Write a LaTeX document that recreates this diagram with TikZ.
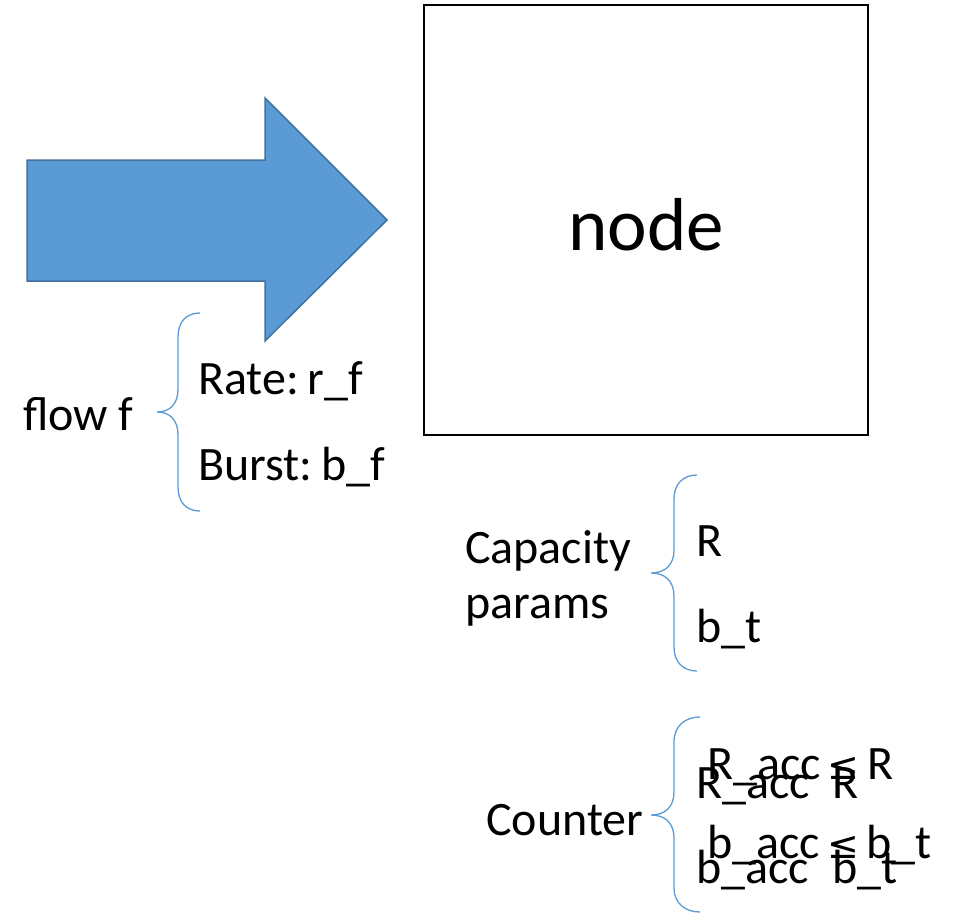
\documentclass[tikz,border=0pt]{standalone}
\usepackage{fontspec}
\setmainfont{Carlito}
\newfontfamily\symfont{DejaVu Sans}
\definecolor{arrfill}{HTML}{5B9BD5}
\definecolor{arrdraw}{HTML}{41719C}
\definecolor{bracec}{HTML}{5B9BD5}
\newcommand{\leqsym}{\hspace{0.15em}{\symfont\fontsize{38}{48}\selectfont ≤}\hspace{0.15em}}
\begin{document}
\begin{tikzpicture}[x=1pt,y=-1pt,
  lbl/.style={anchor=base west,inner sep=0pt,font=\fontsize{48}{54}\selectfont},
  brc/.style={draw=bracec,line width=1.3pt}]
\useasboundingbox (0,0) rectangle (953,913);
% arrow
\draw[fill=arrfill,draw=arrdraw,line width=1.5pt,line join=miter]
  (27,160) -- (265,160) -- (265,98) -- (387,220) -- (265,341) -- (265,281) -- (27,281) -- cycle;
% node box
\node[draw=black,line width=1.8pt,minimum width=444pt,minimum height=430pt,inner sep=0pt] (box) at (646,220) {};
\node[font=\fontsize{75}{80}\selectfont,inner sep=0pt,anchor=base] (nodetxt) at (646,250) {node};
% brace 1
\draw[brc] (200,313) .. controls (186,313) and (178,322) .. (178,337) -- (178,389)
  .. controls (178,404) and (170,412) .. (157,412)
  .. controls (170,412) and (178,420) .. (178,435) -- (178,487)
  .. controls (178,502) and (186,511) .. (200,511);
\node[lbl] (flow) at (23,430) {flow f};
\node[lbl] (rate) at (198,394) {Rate:\hspace{0.18em}r\_f};
\node[lbl] (burst) at (198,480) {Burst:\hspace{0.18em}b\_f};
% brace 2
\draw[brc] (697,475) .. controls (683,475) and (674,484) .. (674,499) -- (674,550)
  .. controls (674,565) and (665,573) .. (651,573)
  .. controls (665,573) and (674,581) .. (674,596) -- (674,647)
  .. controls (674,662) and (683,671) .. (697,671);
\node[lbl] (cap1) at (465,563) {Capacity};
\node[lbl] (cap2) at (465,618) {params};
\node[lbl] (R) at (696,556) {R};
\node[lbl] (bt) at (696,642) {b\_t};
% brace 3
\draw[brc] (700,717) .. controls (685,717) and (674,726) .. (674,742) -- (674,792)
  .. controls (674,807) and (665,815) .. (651,815)
  .. controls (665,815) and (674,823) .. (674,838) -- (674,888)
  .. controls (674,903) and (685,912) .. (700,912);
\node[lbl] (counter) at (486,835) {Counter};
\node[lbl] (racc2) at (696,798) {R\_acc};
\node[lbl] (r2) at (832,798) {R};
\node[lbl] (bacc2) at (696,883) {b\_acc};
\node[lbl] (bt2) at (832,883) {b\_t};
\node[lbl] (racc1) at (707,779) {R\_acc\leqsym R};
\node[lbl] (bacc1) at (707,858) {b\_acc\leqsym b\_t};
\end{tikzpicture}
\end{document}
